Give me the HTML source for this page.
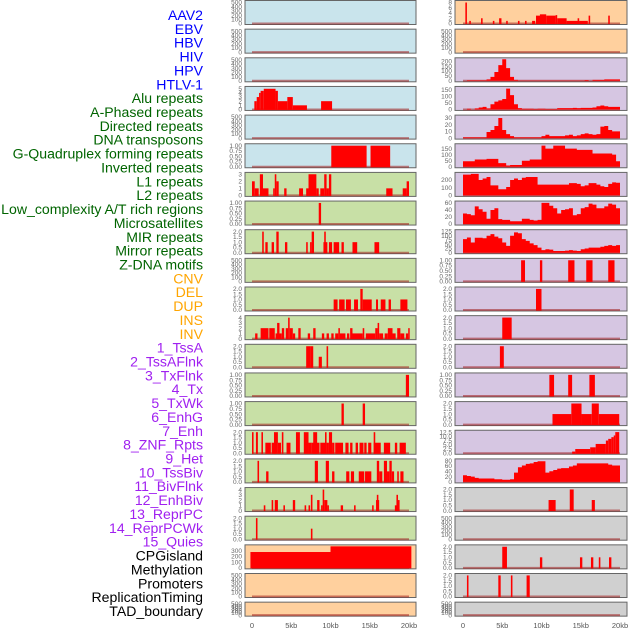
<!DOCTYPE html>
<html><head><meta charset="utf-8">
<style>
html,body{margin:0;padding:0;background:#fff;}
svg{display:block;font-family:"Liberation Sans",sans-serif;}
</style></head>
<body>
<svg id="chart" width="630" height="630" viewBox="0 0 630 630"></svg>
<script>
const trackLabels=["AAV2","EBV","HBV","HIV","HPV","HTLV-1","Alu repeats","A-Phased repeats","Directed repeats","DNA transposons","G-Quadruplex forming repeats","Inverted repeats","L1 repeats","L2 repeats","Low_complexity A/T rich regions","Microsatellites","MIR repeats","Mirror repeats","Z-DNA motifs","CNV","DEL","DUP","INS","INV","1_TssA","2_TssAFlnk","3_TxFlnk","4_Tx","5_TxWk","6_EnhG","7_Enh","8_ZNF_Rpts","9_Het","10_TssBiv","11_BivFlnk","12_EnhBiv","13_ReprPC","14_ReprPCWk","15_Quies","CPGisland","Methylation","Promoters","ReplicationTiming","TAD_boundary"];
const kbTicks=[0,5,10,15,20];
const kbTickLabels=["0","5kb","10kb","15kb","20kb"];
const t500=["0","100","200","300","400","500"];
const t1=["0.00","0.25","0.50","0.75","1.00"];
const t2=["0.0","0.5","1.0","1.5","2.0"];
// bars: [startKb, endKb, value]
const hivBars=[[0.3,0.6,2],[0.6,0.9,3],[0.9,1.1,4],[1.1,1.5,4.5],[1.5,3.0,5],[3.0,3.3,4.5],[3.3,4.5,2],[4.5,5.2,3],[5.2,7.0,1],[8.8,10.2,2]];
const htlvBars=[[10.1,14.6,1],[15.1,17.6,1]];
const aluBars=[[0,0.35,2],[0.35,0.85,1],[1.0,1.4,3],[1.4,2.1,1],[2.7,2.9,1],[2.9,3.1,3],[3.1,3.4,2],[4.1,4.4,1],[6.0,6.5,1],[6.9,7.2,1],[7.2,8.2,3],[8.2,8.5,1],[8.7,9.2,1],[9.2,9.5,3],[9.5,9.8,1],[9.8,10.1,3],[17.1,17.9,1],[19.2,19.7,1],[19.7,20,2]];
const aphasedBars=[[8.5,8.8,1]];
const directedBars=[[1.3,1.5,2],[1.7,2.0,1],[2.5,2.8,1],[3.1,3.4,2],[4.2,4.5,1],[6.9,7.1,1],[7.4,7.6,1],[7.6,7.9,2],[9.1,9.6,1],[9.2,9.4,2],[9.8,10.2,1],[10.4,11.1,1],[11.4,11.7,1],[12.8,13.4,1],[15.6,16.2,1]];
const gquadBars=[[10.4,10.9,1],[11.1,11.8,1],[11.97,12.6,1],[13.0,13.5,1],[13.8,14.1,2],[14.1,15.25,1],[15.8,16.05,1],[16.4,17.0,1],[17.4,17.7,1],[18.9,19.8,1]];
const invertedBars=[[0.4,0.7,1],[1.1,2.1,2],[2.2,2.9,2],[3.0,3.8,1],[3.2,3.5,3],[3.8,4.1,2],[4.3,4.6,2],[4.6,4.8,4],[4.8,5.2,2],[5.2,5.5,1],[5.9,6.2,2],[7.1,7.4,1],[7.8,8.1,2],[8.9,9.2,1],[9.5,9.8,1],[10.1,10.4,1],[10.6,11.0,1],[11.0,11.2,2],[11.2,11.9,1],[12.1,12.4,1],[12.5,12.8,2],[12.8,14.1,1],[14.1,14.3,2],[14.5,15.7,1],[15.7,16.0,2],[16.0,16.2,3],[16.2,16.7,1],[16.9,17.3,1],[17.3,17.9,2],[17.9,18.3,1],[18.5,18.9,2],[18.9,19.4,1],[19.6,19.9,1],[19.9,20,2]];
const l1Bars=[[6.9,7.4,2],[7.4,7.8,2],[8.5,8.9,1],[9.5,9.7,2]];
const l2Bars=[[19.6,20,1]];
const lowcompBars=[[11.4,11.7,1],[14.1,14.4,1]];
const microBars=[[0,0.2,2],[0.5,0.75,2],[1.2,1.4,2],[1.7,2.4,1],[2.5,3.0,1],[2.8,3.3,2],[3.3,3.7,1],[3.8,4.0,2],[4.4,4.9,1],[5.6,6.1,2],[6.6,7.2,2],[7.2,7.6,1],[7.6,8.6,1],[7.8,8.3,2],[8.7,9.3,1],[9.3,9.5,2],[9.5,9.8,1],[9.8,10.2,2],[10.2,10.5,1],[10.6,11.6,1],[11.9,12.3,1],[12.5,12.8,1],[13.2,13.5,1],[13.7,14.2,1],[14.3,14.6,1],[14.8,15.2,1],[15.5,16.4,1],[15.5,15.7,2],[16.8,17.6,1],[18.2,18.5,1],[18.8,19.6,1]];
const mirBars=[[0.7,0.9,2],[1.8,2.1,1],[8.0,8.4,2],[9.4,9.8,2],[10.2,10.5,1],[12.0,12.4,1],[12.6,13.0,1],[13.6,14.3,1],[14.4,15.2,1],[15.9,16.2,2],[16.2,16.6,1],[16.8,17.2,2],[17.2,17.5,1],[17.5,17.8,2],[17.8,18.1,1],[18.5,18.7,1],[18.9,19.3,1]];
const mirrorBars=[[1.5,1.7,1],[2.5,2.7,2],[2.9,3.3,2],[4.0,4.2,1],[5.2,5.5,2],[6.7,6.9,1],[7.2,7.4,1],[7.5,7.7,3],[8.3,8.6,2],[8.8,9.0,1],[9.0,9.2,4],[9.2,9.6,2],[9.6,9.8,1],[11.3,11.6,1],[13.0,13.2,1],[15.3,15.5,1],[15.8,16.2,2],[15.9,16.1,3],[18.2,18.5,1],[18.4,18.6,3],[18.6,18.8,2]];
const zdnaBars=[[0.5,0.7,2],[7.5,7.7,1]];
const cnvBars=[[-0.2,10.0,280],[10.0,20.3,400]];
const insBars=[[0.3,0.5,8],[0.8,1.0,1],[2.3,2.5,2],[3.8,4.0,1],[4.6,4.9,2],[5.5,5.7,1],[7.0,7.2,1],[7.9,8.1,1],[8.8,9.2,1],[9.3,10.0,3],[9.8,10.6,3.5],[10.6,11.8,3],[11.8,12.0,3.2],[12.0,13.2,2],[13.2,14.9,1],[14.6,14.8,2],[14.9,15.9,1],[16.0,16.2,3],[18.5,18.7,3]];
const tssaBins=[0,5,5,5,5,5,15,40,90,160,220,130,40,10,3,3,3,3,3,3,3,3,3,3,3,3,3,3,3,3,3,8,0,10,10,10,15,15,15,15];
const tssaflnkBins=[0,5,0,8,15,20,8,40,60,70,80,160,110,40,10,5,5,5,3,5,5,3,3,3,10,10,10,10,12,10,12,12,12,15,25,30,25,20,20,20];
const txflnkBins=[1,1,1,1,1,1,9,12,18,30,12,6,3,1,1,1,1,1,1,1,3,5,3,3,3,3,4,5,3,4,6,7,6,5,6,17,18,12,10,10];
const txBins=[45,45,45,60,60,60,65,65,65,30,30,10,15,15,15,50,50,60,60,60,175,150,150,175,175,175,150,150,150,140,140,140,140,110,110,110,110,110,100,45];
const txwkBins=[270,270,280,280,200,220,240,130,130,80,80,110,200,220,200,230,240,240,240,140,140,140,140,140,140,140,140,160,160,150,120,130,160,160,140,120,110,150,170,165];
const enhgBins=[30,28,25,50,42,35,15,40,45,14,12,12,8,8,8,15,15,12,10,12,60,60,52,45,30,40,42,45,25,28,45,48,58,55,45,45,50,58,55,45];
const enhBins=[80,90,60,88,88,85,100,110,95,85,60,40,100,120,115,80,70,55,45,30,15,20,18,10,10,10,12,15,12,10,20,25,30,30,30,35,40,45,40,45];
const znfBars=[[7.4,7.9,1],[9.8,10.1,1],[13.4,14.2,1],[15.7,16.5,1],[18.5,19.3,1]];
const hetBars=[[9.3,10.0,2]];
const tssbivBars=[[5.0,6.2,2]];
const bivflnkBars=[[4.7,5.2,2]];
const enhbivBars=[[11.0,11.6,1],[13.4,13.9,1],[16.1,16.8,1]];
const reprpcBars=[[11.4,13.8,1],[13.8,15.1,2],[15.1,16.4,1],[16.4,17.3,2],[17.3,19.9,1]];
const reprpcwkBars=[[13.9,14.3,1],[14.3,16.2,2.5],[16.2,16.9,3.5],[16.9,18.2,5.5],[18.2,18.5,7.5],[18.5,18.9,8.5],[18.9,19.2,9.5],[19.2,19.4,10.5],[19.4,19.9,12.5]];
const quiesBins=[25,22,20,15,13,13,13,13,10,10,8,8,10,35,55,62,68,70,75,78,78,35,40,45,50,52,52,58,62,70,70,70,70,70,70,70,70,65,62,62];
const cpgBars=[[10.9,11.8,1],[13.6,14.1,2],[16.4,16.8,1]];
const promoterBars=[[5.0,5.6,2],[9.8,10.1,1],[14.9,15.2,1],[16.3,16.6,1],[17.3,17.5,1],[18.6,18.9,1]];
const reptimeBars=[[0.5,0.7,2],[4.5,4.8,2],[6.1,6.3,2],[8.1,8.5,2]];

const BLUE="#c9e4ec",GREEN="#c8e0a6",ORANGE="#ffd09e",PURPLE="#d6c6e2",GREY="#d0d0d0";
// panels: [col,row,bg,tickLabels,ymax,bars,bins]
const panels=[
[0,0,BLUE,t500,510,null,null],[0,1,BLUE,t500,510,null,null],[0,2,BLUE,t500,510,null,null],
[0,3,BLUE,["0","1","2","3","4","5"],5.2,hivBars,null],[0,4,BLUE,t500,510,null,null],
[0,5,BLUE,t1,1.02,htlvBars,null],
[0,6,GREEN,["0","1","2","3"],3.05,aluBars,null],[0,7,GREEN,t1,1.02,aphasedBars,null],
[0,8,GREEN,t2,2.04,directedBars,null],[0,9,GREEN,t500,510,null,null],
[0,10,GREEN,t2,2.04,gquadBars,null],[0,11,GREEN,["0","1","2","3","4"],4.1,invertedBars,null],
[0,12,GREEN,t2,2.04,l1Bars,null],[0,13,GREEN,t1,1.02,l2Bars,null],
[0,14,GREEN,t1,1.02,lowcompBars,null],[0,15,GREEN,t2,2.04,microBars,null],
[0,16,GREEN,t2,2.04,mirBars,null],[0,17,GREEN,["0","1","2","3","4"],4.1,mirrorBars,null],
[0,18,GREEN,t2,2.04,zdnaBars,null],[0,19,ORANGE,["0","100","200","300"],380,cnvBars,null],
[0,20,ORANGE,t500,510,null,null],[0,21,ORANGE,t500,510,null,null],
[1,0,ORANGE,["0","2","4","6","8"],8.2,insBars,null],[1,1,ORANGE,t500,510,null,null],
[1,2,PURPLE,["0","50","100","150","200"],220,null,tssaBins],
[1,3,PURPLE,["0","50","100","150"],165,null,tssaflnkBins],
[1,4,PURPLE,["0","10","20","30"],32,null,txflnkBins],
[1,5,PURPLE,["0","50","100","150"],178,null,txBins],
[1,6,PURPLE,["0","100","200"],280,null,txwkBins],
[1,7,PURPLE,["0","20","40","60"],61,null,enhgBins],
[1,8,PURPLE,["0","25","50","75","100","125"],127,null,enhBins],
[1,9,PURPLE,t1,1.02,znfBars,null],[1,10,PURPLE,t2,2.04,hetBars,null],
[1,11,PURPLE,t2,2.04,tssbivBars,null],[1,12,PURPLE,t2,2.04,bivflnkBars,null],
[1,13,PURPLE,t1,1.02,enhbivBars,null],[1,14,PURPLE,t2,2.04,reprpcBars,null],
[1,15,PURPLE,["0.0","2.5","5.0","7.5","10.0","12.5"],12.7,reprpcwkBars,null],
[1,16,PURPLE,["0","20","40","60","80"],81,null,quiesBins],
[1,17,GREY,t2,2.04,cpgBars,null],[1,18,GREY,t500,510,null,null],
[1,19,GREY,t2,2.04,promoterBars,null],[1,20,GREY,t2,2.04,reptimeBars,null],
[1,21,GREY,t500,510,null,null]
];
const NS="http://www.w3.org/2000/svg";
const svg=document.getElementById("chart");
function mk(tag,attrs,parent){const e=document.createElementNS(NS,tag);for(const k in attrs)e.setAttribute(k,attrs[k]);(parent||svg).appendChild(e);return e;}
const colX=[245,455],colW=[171,172],data0=[252,463],pxPerKb=7.85;
function xScale(col,kb){return data0[col]+kb*pxPerKb;}
const labelColors=[];
for(let i=0;i<44;i++){labelColors.push(i<6?"#0000ff":i<19?"#006400":i<24?"#ffa500":i<39?"#a020f0":"#000");}
trackLabels.forEach((t,i)=>{
  const el=mk("text",{x:203,y:(15+i*13.86+5).toFixed(1),"text-anchor":"end","font-size":"14.1",fill:labelColors[i]});
  el.textContent=t;
  
  
});
panels.forEach(p=>{
  const [col,row,bg,ticks,ymax,bars,bins]=p;
  const top=row*28.65, h=row===21?15:25;
  const g=mk("g",{});
  
  
  const x0=colX[col],w=colW[col];
  mk("rect",{x:x0,y:top+0.5,width:w,height:h-1,fill:bg,stroke:"#666","stroke-width":1},g);
  const yb=top+h-1.5, span=h-3.5;
  const yS=v=>yb-Math.min(v,ymax)/ymax*span;
  ticks.forEach(lab=>{
    const v=parseFloat(lab);
    const tt=mk("text",{x:x0-3,y:(yS(v)+2.2).toFixed(1),"text-anchor":"end","font-size":"6.5",fill:"#666"},g);
    tt.textContent=lab;
    
    
  });
  mk("line",{x1:xScale(col,0),x2:xScale(col,20),y1:yb,y2:yb,stroke:"rgba(160,30,30,0.55)","stroke-width":2},g);
  if(bars){bars.forEach(b=>{
    const xa=xScale(col,b[0]),xb=xScale(col,b[1]);
    const r=mk("rect",{x:xa.toFixed(2),y:yS(b[2]).toFixed(2),width:Math.max(1.5,xb-xa).toFixed(2),height:(yb-yS(b[2])+0.5).toFixed(2),fill:"#ff0000"},g);
    
    
  });}
  if(bins){
    let d="M"+xScale(col,0)+","+yb;
    bins.forEach((v,i)=>{d+=" L"+xScale(col,i*0.5).toFixed(2)+","+yS(v).toFixed(2)+" L"+xScale(col,(i+1)*0.5).toFixed(2)+","+yS(v).toFixed(2);});
    d+=" L"+xScale(col,20)+","+yb+" Z";
    const a=mk("path",{d:d,fill:"#ff0000"},g);
    
    
  }
});
[0,1].forEach(col=>{
  kbTicks.forEach((k,i)=>{
    const t=mk("text",{x:xScale(col,k),y:628,"text-anchor":"middle","font-size":"7.5",fill:"#555"});
    t.textContent=kbTickLabels[i];
    
    
  });
});
</script>
</body></html>
